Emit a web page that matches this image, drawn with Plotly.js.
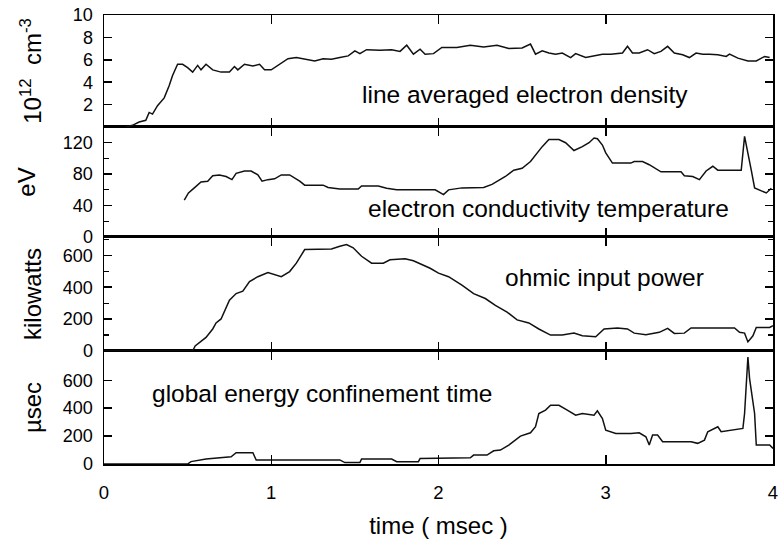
<!DOCTYPE html>
<html>
<head>
<meta charset="utf-8">
<script src="https://cdn.plot.ly/plotly-3.0.1.min.js"></script>
<style>html,body{margin:0;padding:0;background:#fff;}#chart{width:780px;height:539px;}</style>
</head>
<body>
<div id="chart"></div>
<script>
// ---- data ----
const densityTime = [0.13,0.17,0.21,0.25,0.27,0.29,0.32,0.36,0.39,0.41,0.44,0.47,0.50,0.53,0.56,0.58,0.61,0.65,0.70,0.75,0.78,0.80,0.84,0.89,0.93,0.96,1.00,1.05,1.10,1.15,1.21,1.26,1.31,1.36,1.41,1.46,1.50,1.53,1.57,1.65,1.72,1.77,1.81,1.85,1.89,1.92,1.97,2.02,2.11,2.19,2.27,2.35,2.42,2.50,2.55,2.58,2.62,2.66,2.70,2.74,2.79,2.82,2.88,2.93,2.98,3.03,3.10,3.13,3.16,3.20,3.25,3.29,3.33,3.37,3.41,3.46,3.50,3.54,3.58,3.62,3.67,3.72,3.74,3.79,3.85,3.90,3.95,3.98];
const density     = [0.0,0.15,0.44,0.6,1.3,1.15,1.9,2.6,3.7,4.6,5.6,5.6,5.3,4.9,5.5,5.1,5.6,5.1,4.9,4.9,5.4,5.1,5.6,5.45,5.6,5.1,5.1,5.6,6.1,6.2,6.05,5.9,6.1,6.05,6.2,6.35,6.8,6.55,6.9,6.85,6.9,6.75,7.3,6.5,6.95,6.5,6.55,7.1,7.1,7.3,7.15,7.3,7.0,7.05,7.4,6.5,6.8,6.6,6.5,6.6,6.2,6.55,6.2,6.35,6.5,6.5,6.6,7.2,6.6,6.6,6.9,6.55,6.75,7.2,6.6,6.45,6.2,6.6,6.5,6.5,6.45,6.3,6.5,6.15,5.9,5.9,6.3,6.2];

const tempTime = [0.48,0.505,0.54,0.58,0.62,0.65,0.69,0.73,0.765,0.79,0.84,0.88,0.92,0.945,0.98,1.02,1.06,1.11,1.17,1.20,1.31,1.34,1.41,1.52,1.54,1.64,1.69,1.75,1.88,1.98,2.03,2.06,2.14,2.27,2.32,2.40,2.45,2.50,2.55,2.58,2.62,2.66,2.72,2.76,2.81,2.86,2.90,2.93,2.95,2.98,3.00,3.04,3.15,3.17,3.22,3.26,3.33,3.45,3.47,3.52,3.56,3.60,3.64,3.67,3.81,3.83,3.85,3.87,3.89,3.92,3.96,3.99];
const temperature = [47,56,62.5,70,71,78,79,77,73,81,84,84,79,71,73,74,79,79,71,66,66,63,61,61,65,65,62,60,60,60,54,60,62.5,63,67,77,85,87.5,96,104,115,124,124,120,110,115,120,126,125,117,107,94,94,96,96,92,83,83,78,77,73,84,90,85,85,128,104,85,62.5,60,56,62];

const powerTime = [0,0.53,0.545,0.57,0.61,0.65,0.67,0.70,0.725,0.75,0.79,0.83,0.87,0.92,0.98,1.02,1.06,1.11,1.15,1.20,1.28,1.36,1.41,1.45,1.49,1.54,1.60,1.67,1.71,1.80,1.85,1.90,1.95,2.00,2.06,2.14,2.21,2.28,2.34,2.41,2.47,2.54,2.60,2.67,2.74,2.81,2.86,2.94,2.99,3.07,3.13,3.17,3.24,3.32,3.37,3.41,3.47,3.51,3.77,3.80,3.83,3.85,3.88,3.90,3.98,4.0];
const power     = [0,0,32,53,85,138,176,201,265,318,360,375,435,466,492,481,466,498,551,636,636,640,657,668,647,594,551,551,572,579,566,541,519,488,466,413,360,329,286,244,195,176,138,100,100,112,95,89,138,144,138,112,102,117,142,110,112,144,144,117,112,57,95,148,148,159];

const tauTime = [0,0.50,0.52,0.61,0.76,0.79,0.89,0.91,1.02,1.41,1.44,1.53,1.54,1.72,1.75,1.88,1.89,2.02,2.19,2.21,2.29,2.33,2.37,2.42,2.49,2.55,2.58,2.60,2.64,2.67,2.72,2.77,2.82,2.86,2.93,2.95,2.98,3.00,3.06,3.15,3.20,3.24,3.26,3.28,3.31,3.34,3.51,3.55,3.59,3.61,3.67,3.69,3.82,3.83,3.85,3.86,3.89,3.90,3.98,4.0];
const tau     = [0,0,17,36,52,81,81,29,29,29,10,10,36,36,17,17,40,40,45,64,64,95,100,136,200,224,267,362,386,421,421,386,350,362,350,381,326,243,219,219,224,195,136,207,207,160,160,148,171,231,267,231,255,362,767,612,362,136,136,112];

const xTicks = [0,1,2,3,4];
const densityTicks = [2,4,6,8,10];
const tempTicks = [0,40,80,120];
const powerTicks = [0,200,400,600];
const tauTicks = [0,200,400,600];
const labels = ["line averaged electron density","electron conductivity temperature","ohmic input power","global energy confinement time"];
const yTitles = ["10<sup>12</sup>  cm<sup>-3</sup>","eV","kilowatts","µsec"];
const xTitle = "time ( msec )";

// ---- chart ----
const FONT = "Liberation Sans, Arial, Helvetica, sans-serif";
const lineStyle = {color:"#111", width:1.5};
const traces = [
  {x:densityTime, y:density, xaxis:"x4", yaxis:"y", mode:"lines", line:lineStyle},
  {x:tempTime, y:temperature, xaxis:"x3", yaxis:"y2", mode:"lines", line:lineStyle},
  {x:powerTime, y:power, xaxis:"x2", yaxis:"y3", mode:"lines", line:lineStyle},
  {x:tauTime, y:tau, xaxis:"x", yaxis:"y4", mode:"lines", line:lineStyle}
];

function xAx(anchor, showLabels){
  const a = {anchor:anchor, range:[0,4], tickvals:xTicks, ticks:"inside", ticklen:9, tickwidth:1.5,
    tickcolor:"#000", showline:true, linewidth:1.5, linecolor:"#000", mirror:"ticks",
    showgrid:false, zeroline:false, showticklabels:showLabels,
    tickfont:{family:FONT, size:18.5, color:"#000"}, ticklabelstandoff:11};
  if(!showLabels) a.matches = "x";
  return a;
}
function yAx(domain, range, tickvals, minorDtick, title, standoff){
  const a = {domain:domain, range:range, tickvals:tickvals, ticks:"inside", ticklen:8, tickwidth:1.5,
    tickcolor:"#000", showline:true, linewidth:1.5, linecolor:"#000", mirror:"ticks",
    showgrid:false, zeroline:false, tickfont:{family:FONT, size:18, color:"#000"},
    ticklabelstandoff:6,
    title:{text:title, font:{family:FONT, size:24, color:"#000"}, standoff:standoff}};
  if(minorDtick) a.minor = {dtick:minorDtick, ticks:"inside", ticklen:5, tickwidth:1.2, tickcolor:"#000", showgrid:false};
  return a;
}

const annFont = {family:FONT, size:24.5, color:"#000"};
const layout = {
  width:780, height:539,
  margin:{l:104, r:7, t:15, b:75},
  paper_bgcolor:"#fff", plot_bgcolor:"#fff",
  showlegend:false,
  font:{family:FONT, color:"#000"},
  xaxis: Object.assign(xAx("y4", true), {title:{text:xTitle, font:{family:FONT, size:24, color:"#000"}, standoff:16}}),
  xaxis2: xAx("y3", false),
  xaxis3: xAx("y2", false),
  xaxis4: xAx("y", false),
  yaxis:  yAx([0.7506,1], [0,10], densityTicks, null, yTitles[0], 24),
  yaxis2: yAx([0.5056,0.7506], [0,140], tempTicks, 20, yTitles[1], 20),
  yaxis3: yAx([0.2517,0.5056], [0,715], powerTicks, 100, yTitles[2], 14),
  yaxis4: yAx([0,0.2517], [0,810], tauTicks, null, yTitles[3], 14),
  annotations:[
    {text:labels[0], xref:"x4", yref:"y", x:2.515, y:2.9, showarrow:false, font:annFont},
    {text:labels[1], xref:"x3", yref:"y2", x:2.66, y:36, showarrow:false, font:annFont},
    {text:labels[2], xref:"x2", yref:"y3", x:2.99, y:460, showarrow:false, font:annFont},
    {text:labels[3], xref:"x", yref:"y4", x:1.305, y:505, showarrow:false, font:annFont}
  ]
};

Plotly.newPlot("chart", traces, layout, {displayModeBar:false, staticPlot:true});
</script>
</body>
</html>
